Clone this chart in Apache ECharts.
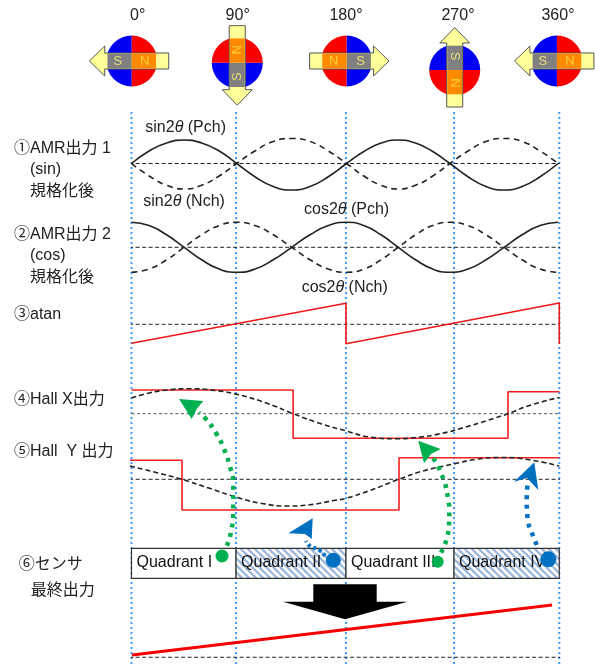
<!DOCTYPE html>
<html>
<head>
<meta charset="utf-8">
<title>AMR / Hall</title>
<script src="https://cdn.jsdelivr.net/npm/echarts@6/dist/echarts.min.js"></script>
<style>
  html, body { margin: 0; padding: 0; background: #fff; }
  #chart { width: 595px; height: 666px; }
</style>
</head>
<body>
<div id="chart"></div>
<script>
// rotor angle labels, and where the dotted guides really sit in the picture
const tickLabels = ['0°', '90°', '180°', '270°', '360°'];
const guideAngles = [0, 88, 180.5, 271.4, 360];
const magnetAngles = [0.2, 89, 181, 272, 358];
const magnetTurns = [0, 90, 180, 270, 0];

// AMR outputs
const amrAngles = [0, 14.8, 29.5, 44.3, 59, 73.8, 88.5, 103.9, 119.3, 134.8, 150.2, 165.6, 181,
  195.5, 210, 224.5, 239, 253.5, 268, 283.2, 298.3, 313.5, 328.7, 343.8, 359];
const sinPch = [0, 0.5, 0.82, 0.94, 0.82, 0.5, 0, -0.53, -0.92, -1.06, -0.92, -0.53, 0,
  0.48, 0.82, 0.94, 0.82, 0.48, 0, -0.53, -0.92, -1.06, -0.92, -0.53, 0];
const sinNch = [0, -0.5, -0.87, -1.02, -0.87, -0.5, 0, 0.5, 0.88, 1, 0.88, 0.5, 0,
  -0.5, -0.87, -1.02, -0.87, -0.5, 0, 0.5, 0.88, 1, 0.88, 0.5, 0];
const cosPch = [1, 0.87, 0.5, 0, -0.5, -0.87, -1, -0.87, -0.5, 0, 0.5, 0.87, 1,
  0.87, 0.5, 0, -0.5, -0.87, -1, -0.87, -0.5, 0, 0.5, 0.87, 1];
const cosNch = [-1, -0.87, -0.5, 0, 0.5, 0.87, 1, 0.87, 0.5, 0, -0.5, -0.87, -1,
  -0.87, -0.5, 0, 0.5, 0.87, 1, 0.87, 0.5, 0, -0.5, -0.87, -1];

// atan sawtooth
const atanAngles = [0, 180.5, 180.5, 360, 360];
const atanValues = [-0.95, 1.05, -0.97, 1.065, -0.985];

// Hall outputs: analog curve and comparator step
const hallXAngles = [0, 15, 30, 49, 70, 90, 115, 136, 160, 180, 200, 221.6, 240, 260, 280, 300, 316.8, 335, 360];
const hallXCurve = [0.63, 0.83, 0.95, 1, 0.93, 0.76, 0.4, 0, -0.41, -0.68, -0.93, -1, -0.95, -0.8, -0.55, -0.26, 0, 0.33, 0.65];
const hallXStepAngles = [0, 136, 136, 316.8, 316.8, 360];
const hallXStep = [0.95, 0.95, -0.98, -0.98, 0.88, 0.88];
const hallYAngles = [-1.3, 20, 42.4, 65, 90, 110, 131.7, 150, 170, 180.5, 200, 225, 245, 271, 290, 311.8, 335, 360];
const hallYCurve = [0.53, 0.28, 0, -0.35, -0.74, -0.97, -1.07, -1.02, -0.85, -0.76, -0.46, 0, 0.33, 0.61, 0.8, 0.87, 0.78, 0.53];
const hallYStepAngles = [-1.3, 42.5, 42.5, 225.1, 225.1, 360];
const hallYStep = [0.76, 0.76, -1.23, -1.23, 0.86, 0.86];

// final sensor output
const finalAngles = [0.4, 353.9];
const finalValues = [-1, 1];

// quadrant table
const quadrantLabels = ['Quadrant I', 'Quadrant II', 'Quadrant III', 'Quadrant IV'];
const quadrantHatched = [false, true, false, true];

const zip = (xs, ys) => xs.map((x, i) => [x, ys[i]]);

const FONT = '"Liberation Sans","Noto Sans CJK JP",sans-serif';
const X0 = 131.5, XW = 427.8;

// every panel is its own grid: same degree x axis, y runs -1..1 around a midline
const panels = [
  { mid: 163.5, amp: 25 },
  { mid: 247.3, amp: 25 },
  { mid: 324.3, amp: 20 },
  { mid: 413.7, amp: 25 },
  { mid: 479.3, amp: 25 },
  { mid: 630, amp: 25 }
];

const grids = [], xAxes = [], yAxes = [];
panels.forEach((p, i) => {
  grids.push({ left: X0, width: XW, top: p.mid - p.amp, height: p.amp * 2 });
  xAxes.push({ type: 'value', gridIndex: i, min: 0, max: 360, show: false });
  yAxes.push({ type: 'value', gridIndex: i, min: -1, max: 1, show: false });
});

// grid 6: guides column, grid 7: quadrant row, grid 8: magnet row, grid 9: whole page for annotations
grids.push({ left: X0, width: XW, top: 112, height: 552 });
xAxes.push({ type: 'value', gridIndex: 6, min: 0, max: 360, show: false });
yAxes.push({ type: 'value', gridIndex: 6, min: 0, max: 1, show: false });

grids.push({ left: X0, width: XW, top: 548.3, height: 30 });
xAxes.push({ type: 'value', gridIndex: 7, min: 0, max: 360, show: false });
yAxes.push({ type: 'value', gridIndex: 7, min: 0, max: 1, show: false });

grids.push({ left: X0, width: XW, top: 0, height: 112 });
xAxes.push({ type: 'value', gridIndex: 8, min: 0, max: 360, show: false });
yAxes.push({ type: 'value', gridIndex: 8, min: 0, max: 112, inverse: true, show: false });

grids.push({ left: 0, width: 595, top: 0, height: 666 });
xAxes.push({ type: 'value', gridIndex: 9, min: 0, max: 595, show: false });
yAxes.push({ type: 'value', gridIndex: 9, min: 0, max: 666, inverse: true, show: false });

const series = [];

const line = (idx, data, color, width, dash, smooth, z) => {
  series.push({
    type: 'line',
    xAxisIndex: idx,
    yAxisIndex: idx,
    data: data,
    symbol: 'none',
    smooth: smooth ? 0.5 : false,
    clip: false,
    silent: true,
    animation: false,
    z: z || 3,
    lineStyle: { color: color, width: width, type: dash || 'solid', cap: 'butt' }
  });
};

// dotted guides
guideAngles.forEach(a => line(6, [[a, 0], [a, 1]], '#3f9bff', 2, [2, 3], false, 1));

// midlines
const MID_L = -2, MID_R = 367;
line(0, [[MID_L, 0], [MID_R, 0]], '#222', 1, [4, 2.5], false, 2);
line(1, [[MID_L, 0], [MID_R, 0]], '#222', 1, [4, 2.5], false, 2);
line(2, [[MID_L, 0], [MID_R, 0]], '#222', 1, [4, 2.5], false, 2);
line(3, [[0, 0], [MID_R, 0]], '#777', 1.2, [3, 2.5], false, 2);
line(4, [[MID_L, 0], [MID_R, 0]], '#222', 1, [4, 2.5], false, 2);
line(5, [[MID_L, -1.09], [MID_R, -1.09]], '#222', 1, [4, 2.5], false, 2);

// AMR
line(0, zip(amrAngles, sinPch), '#222', 1.6, null, true);
line(0, zip(amrAngles, sinNch), '#222', 1.6, [6, 4.5], true);
line(1, zip(amrAngles, cosPch), '#222', 1.6, null, true);
line(1, zip(amrAngles, cosNch), '#222', 1.6, [6, 4.5], true);

// atan
line(2, zip(atanAngles, atanValues), '#f01818', 1.6);

// Hall
line(3, zip(hallXStepAngles, hallXStep), '#f02020', 1.6);
line(3, zip(hallXAngles, hallXCurve), '#222', 1.6, [5, 3], true, 4);
line(4, zip(hallYStepAngles, hallYStep), '#f02020', 1.6);
line(4, zip(hallYAngles, hallYCurve), '#222', 1.6, [5, 3], true, 4);

// final output
line(5, zip(finalAngles, finalValues), '#f50000', 3);

// quadrant boxes
const hatch = document.createElement('canvas');
hatch.width = 7;
hatch.height = 7;
(function () {
  const c = hatch.getContext('2d');
  c.fillStyle = '#fff';
  c.fillRect(0, 0, 7, 7);
  c.strokeStyle = '#9fb9da';
  c.lineWidth = 2.2;
  [[-7, -7, 7, 7], [0, 0, 7, 7], [-7, 0, 7, 14], [0, -7, 14, 7]].forEach(s => {
    c.beginPath();
    c.moveTo(s[0], s[1]);
    c.lineTo(s[2], s[3]);
    c.stroke();
  });
})();

series.push({
  type: 'custom',
  xAxisIndex: 7,
  yAxisIndex: 7,
  silent: true,
  animation: false,
  z: 5,
  data: quadrantLabels.map((q, i) => [guideAngles[i], guideAngles[i + 1], i]),
  renderItem: function (params, api) {
    const i = api.value(2);
    const a = api.coord([api.value(0), 1]);
    const b = api.coord([api.value(1), 0]);
    return {
      type: 'group',
      children: [{
        type: 'rect',
        shape: { x: a[0], y: a[1], width: b[0] - a[0], height: b[1] - a[1] },
        style: {
          fill: quadrantHatched[i] ? { image: hatch, repeat: 'repeat' } : '#fff',
          stroke: '#333',
          lineWidth: 1.2
        }
      }, {
        type: 'text',
        x: a[0] + 5,
        y: (a[1] + b[1]) / 2 - 1,
        style: { text: quadrantLabels[i], font: '16px ' + FONT, fill: '#111', verticalAlign: 'middle' }
      }]
    };
  }
});

// rotor magnets along the top
const magnetY = [61, 62.7, 61, 70, 61];
series.push({
  type: 'custom',
  xAxisIndex: 8,
  yAxisIndex: 8,
  silent: true,
  animation: false,
  z: 6,
  data: magnetAngles.map((a, i) => [a, magnetY[i], magnetTurns[i]]),
  renderItem: function (params, api) {
    const p = api.coord([api.value(0), api.value(1)]);
    const turn = api.value(2);
    const keep = turn === 180 ? Math.PI : 0;
    const r = 25.5;
    return {
      type: 'group',
      x: p[0],
      y: p[1],
      rotation: turn * Math.PI / 180,
      children: [
        { type: 'sector', shape: { cx: 0, cy: 0, r: r, startAngle: Math.PI / 2, endAngle: Math.PI * 1.5 }, style: { fill: '#0000f5' } },
        { type: 'sector', shape: { cx: 0, cy: 0, r: r, startAngle: -Math.PI / 2, endAngle: Math.PI / 2 }, style: { fill: '#fb0000' } },
        {
          type: 'polygon',
          shape: { points: [[-42.4, 0], [-27, -15], [-27, -8], [37, -8], [37, 8], [-27, 8], [-27, 15]] },
          style: { fill: '#ffff99', stroke: '#555', lineWidth: 1 }
        },
        { type: 'rect', shape: { x: -24.3, y: -7.5, width: 24.3, height: 15 }, style: { fill: '#808080' } },
        { type: 'rect', shape: { x: 0, y: -7.5, width: 24.3, height: 15 }, style: { fill: '#ff8a00' } },
        { type: 'text', x: -14, y: 0, rotation: keep, style: { text: 'S', align: 'center', verticalAlign: 'middle', font: '13px ' + FONT, fill: '#e4dc7c' } },
        { type: 'text', x: 13, y: 0, rotation: keep, style: { text: 'N', align: 'center', verticalAlign: 'middle', font: '13px ' + FONT, fill: '#ffcf3a' } }
      ]
    };
  }
});

// annotation shapes, in page pixels through the page grid
const greenPathA = [[226.7, 545.7], [230, 537], [233.3, 510], [233.3, 483.3], [230, 466.7], [224, 449], [216, 433], [206, 419], [199, 412.7]];
const greenPathB = [[441, 552.7], [445, 544], [447.3, 536], [449, 526.7], [449.3, 510], [448.3, 500], [445, 483.3], [441.7, 475], [438.3, 466.7], [433.3, 458.3]];
const bluePathA = [[325, 556], [318, 549], [311, 547], [306, 541]];
const bluePathB = [[536.7, 545], [530.7, 530], [528.3, 523.3], [527.3, 515], [526.7, 500], [527.7, 483.3]];

line(9, greenPathA, '#00b050', 4.5, [4, 5.5], true, 8);
line(9, greenPathB, '#00b050', 4.5, [4, 5.5], true, 8);
line(9, bluePathA, '#0070c0', 4, [3, 3], true, 8);
line(9, bluePathB, '#0070c0', 4.5, [4, 5.5], true, 8);

const shapes = [
  { fill: '#000', pts: [[313.3, 584.3], [376.7, 584.3], [376.7, 601.7], [407.3, 601.7], [345, 619.3], [283, 601.7], [313.3, 601.7]] },
  { fill: '#00b050', pts: [[179, 399], [203.3, 401], [196.7, 409], [191.7, 419]] },
  { fill: '#00b050', pts: [[418.3, 440.7], [440.7, 449], [431, 454], [424, 463.3]] },
  { fill: '#0070c0', pts: [[312.7, 518.3], [311.7, 539], [305, 534], [288.3, 533.3]] },
  { fill: '#0070c0', pts: [[534.3, 462.3], [538.3, 490], [527, 478], [514, 481.7]] }
];
const dots = [
  { fill: '#00b050', c: [222, 556], r: 6.5 },
  { fill: '#00b050', c: [437.7, 561.7], r: 6 },
  { fill: '#0070c0', c: [333.3, 560.3], r: 7.5 },
  { fill: '#0070c0', c: [548.3, 559.3], r: 8 }
];

series.push({
  type: 'custom',
  xAxisIndex: 9,
  yAxisIndex: 9,
  silent: true,
  animation: false,
  z: 9,
  data: shapes.map((s, i) => [i]),
  renderItem: function (params, api) {
    const s = shapes[api.value(0)];
    return {
      type: 'polygon',
      shape: { points: s.pts.map(p => api.coord(p)) },
      style: { fill: s.fill }
    };
  }
});
series.push({
  type: 'custom',
  xAxisIndex: 9,
  yAxisIndex: 9,
  silent: true,
  animation: false,
  z: 9,
  data: dots.map((d, i) => [i]),
  renderItem: function (params, api) {
    const d = dots[api.value(0)];
    const c = api.coord(d.c);
    return { type: 'circle', shape: { cx: c[0], cy: c[1], r: d.r }, style: { fill: d.fill } };
  }
});

// texts
const labelStyle = (text, x, y) => ({
  type: 'text',
  x: x,
  y: y,
  z: 20,
  silent: true,
  style: { text: text, font: '16px ' + FONT, fill: '#222', verticalAlign: 'middle' }
});
const richLabel = (fn, ch, x, y) => ({
  type: 'text',
  x: x,
  y: y,
  z: 20,
  silent: true,
  style: {
    text: '{a|' + fn + '}{i|θ}{a| (' + ch + ')}',
    verticalAlign: 'middle',
    rich: {
      a: { font: '16px ' + FONT, fill: '#222' },
      i: { font: 'italic 16px ' + FONT, fill: '#222' }
    }
  }
});
const tickX = [137.7, 237.7, 346, 458, 558];
const graphic = [
  labelStyle('①AMR出力 1', 14, 148.3),
  labelStyle('(sin)', 30, 170),
  labelStyle('規格化後', 30, 191.7),
  labelStyle('②AMR出力 2', 14, 234.3),
  labelStyle('(cos)', 30, 255.7),
  labelStyle('規格化後', 30, 277.7),
  labelStyle('③atan', 14, 315),
  labelStyle('④Hall X出力', 14, 400),
  labelStyle('⑤Hall  Y 出力', 14, 451.7),
  labelStyle('⑥センサ', 18.7, 565),
  labelStyle('最終出力', 30.7, 591),
  richLabel('sin2', 'Pch', 145.3, 127.7),
  richLabel('sin2', 'Nch', 143.3, 201.7),
  richLabel('cos2', 'Pch', 304, 210),
  richLabel('cos2', 'Nch', 301.7, 287.7)
];
tickLabels.forEach((t, i) => {
  graphic.push({
    type: 'text',
    x: tickX[i],
    y: 16,
    z: 20,
    silent: true,
    style: { text: t, font: '16px ' + FONT, fill: '#222', align: 'center', verticalAlign: 'middle' }
  });
});

const myChart = echarts.init(document.getElementById('chart'));
myChart.setOption({
  animation: false,
  grid: grids,
  xAxis: xAxes,
  yAxis: yAxes,
  series: series,
  graphic: graphic
});
</script>
</body>
</html>
